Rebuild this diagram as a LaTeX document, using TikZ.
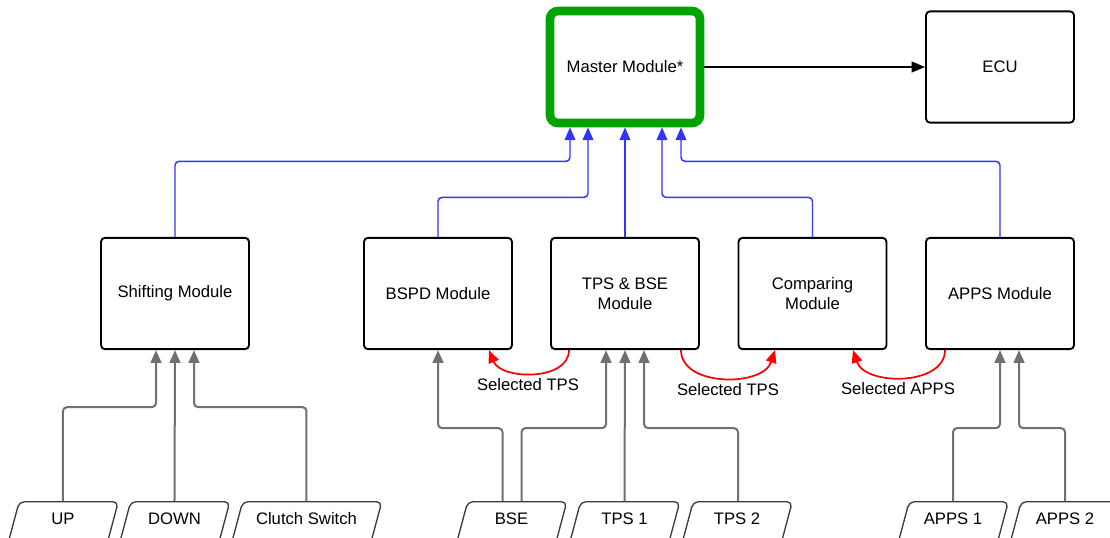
\documentclass[tikz,border=0pt]{standalone}
\usepackage{fontspec}
\setmainfont{Liberation Sans}
\usetikzlibrary{shapes.geometric,arrows.meta,calc}
\definecolor{linkblue}{RGB}{51,51,255}
\definecolor{wiregray}{RGB}{112,112,112}
\definecolor{mastergreen}{RGB}{0,163,0}
\definecolor{inputedge}{RGB}{60,60,60}
\begin{document}
\begin{tikzpicture}[x=0.75pt,y=-0.75pt,
  font=\fontsize{12.5}{15}\selectfont,
  tip/.style={-{Triangle[length=9.5pt,width=8pt]}},
  module/.style={draw, line width=1.4pt, rounded corners=3pt,
    minimum width=111pt, minimum height=83.5pt, align=center, inner sep=0pt},
  master/.style={draw=mastergreen, line width=6.5pt, rounded corners=6pt,
    minimum width=112.5pt, minimum height=84pt, inner sep=0pt},
  inputbox/.style={trapezium, trapezium left angle=75, trapezium right angle=105,
    trapezium stretches body, draw=inputedge, line width=1pt, rounded corners=4pt,
    minimum width=83pt, minimum height=0pt, inner ysep=0pt, inner xsep=0pt,
    text height=17.25pt, text depth=15pt, anchor=north},
  sigwire/.style={draw=wiregray, line width=1.5pt, rounded corners=3pt, tip, wiregray},
  buswire/.style={draw=linkblue, line width=1.1pt, rounded corners=3pt, tip, linkblue},
  selwire/.style={draw=red, line width=1.3pt, tip, red},
  sellabel/.style={inner sep=1pt}]
\useasboundingbox (0,0) rectangle (1110,537);

% top row
\node[master] (master) at (625,67) {Master Module*};
\node[module] (ecu) at (1000,67) {ECU};

% module row
\node[module] (shift) at (175,293.5) {Shifting Module};
\node[module] (bspd) at (438,293.5) {BSPD Module};
\node[module] (tps) at (625,293.5) {TPS \& BSE\\Module};
\node[module] (cmp) at (812.5,293.5) {Comparing\\Module};
\node[module] (apps) at (1000,293.5) {APPS Module};

% sensor inputs
\node[inputbox] (up) at (63,501) {UP};
\node[inputbox] (down) at (174.5,501) {DOWN};
\node[inputbox, minimum width=113pt] (clutch) at (306.5,501) {Clutch Switch};
\node[inputbox] (bse) at (511.5,501) {BSE};
\node[inputbox] (tps1) at (624.5,501) {TPS 1};
\node[inputbox] (tps2) at (737,501) {TPS 2};
\node[inputbox] (apps1) at (953,501) {APPS 1};
\node[inputbox] (apps2) at (1065,501) {APPS 2};

% master to ECU
\draw[line width=1.3pt, -{Triangle[length=10pt,width=8pt]}] (master.east) -- (ecu.west);

% module bus to master
\draw[buswire] (shift.north) |- ($(master.south)+(-55,34)$) -- ($(master.south)+(-55,0)$);
\draw[buswire] (bspd.north) |- ($(master.south)+(-37,70)$) -- ($(master.south)+(-37,0)$);
\draw[buswire] (tps.north) -- (master.south);
\draw[buswire] (cmp.north) |- ($(master.south)+(37,70)$) -- ($(master.south)+(37,0)$);
\draw[buswire] (apps.north) |- ($(master.south)+(56,34)$) -- ($(master.south)+(56,0)$);

% shifting inputs
\draw[sigwire] (up.center |- up.north) |- ($(shift.south)+(-19,57)$) -- ($(shift.south)+(-19,0)$);
\draw[sigwire] (down.center |- down.north) -- (shift.south);
\draw[sigwire] (clutch.center |- clutch.north) |- ($(shift.south)+(19,57)$) -- ($(shift.south)+(19,0)$);

% brake and throttle inputs
\draw[sigwire] ($(bse.center |- bse.north)+(-9,0)$) |- ($(bspd.south)+(0,78)$) -- (bspd.south);
\draw[sigwire] ($(bse.center |- bse.north)+(10,0)$) |- ($(tps.south)+(-19,78)$) -- ($(tps.south)+(-19,0)$);
\draw[sigwire] (tps1.center |- tps1.north) -- (tps.south);
\draw[sigwire] ($(tps2.center |- tps2.north)+(1,0)$) |- ($(tps.south)+(19,78)$) -- ($(tps.south)+(19,0)$);

% pedal position inputs
\draw[sigwire] (apps1.center |- apps1.north) |- ($(apps.south)+(0,78)$) -- (apps.south);
\draw[sigwire] (apps2.center |- apps2.north) |- ($(apps.south)+(19,78)$) -- ($(apps.south)+(19,0)$);

% selected signal hand-offs
\draw[selwire] ($(tps.south)+(-56,0)$) .. controls +(0,31) and +(12,30) .. ($(bspd.south)+(51,0)$);
\node[sellabel] (sel1) at (528,385) {Selected TPS};
\draw[selwire] ($(tps.south)+(56,0)$) .. controls +(0,37) and +(-12,37) .. ($(cmp.south)+(-37.5,0)$);
\node[sellabel] (sel2) at (728,390) {Selected TPS};
\draw[selwire] ($(apps.south)+(-55,0)$) .. controls +(0,36) and +(12,36) .. ($(cmp.south)+(40.5,0)$);
\node[sellabel] (sel3) at (898,389) {Selected APPS};
\end{tikzpicture}
\end{document}
